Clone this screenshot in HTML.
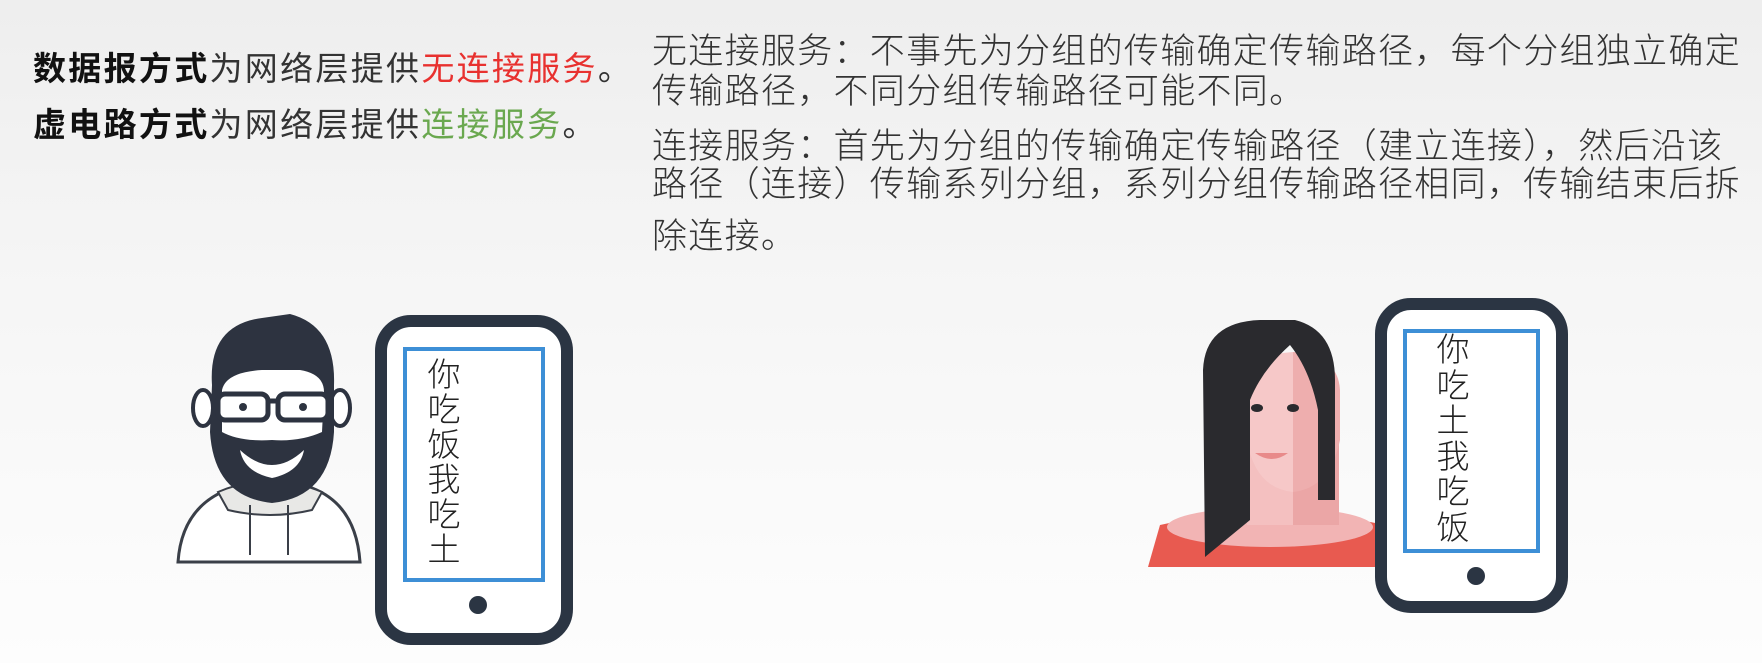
<!DOCTYPE html>
<html><head><meta charset="utf-8">
<style>
html,body{margin:0;padding:0}
body{width:1762px;height:663px;overflow:hidden;position:relative;background:linear-gradient(#eeeeee,#f6f6f6 45%,#fdfdfd);font-family:"Liberation Sans","Noto Sans CJK SC",sans-serif;}
.t{position:absolute;white-space:nowrap;line-height:34px;}
.l{font-size:33px;letter-spacing:2.3px;color:#333;left:33px}
.l b{color:#111}
.r{font-size:35px;letter-spacing:1.3px;color:#333;left:652px;line-height:35px;font-weight:300}
.red{color:#e8312f}.green{color:#6aa84f}
svg{position:absolute;left:0;top:0}
</style></head><body>
<div class="t l" style="top:52px"><b>数据报方式</b>为网络层提供<span class="red">无连接服务</span>。</div>
<div class="t l" style="top:108px"><b>虚电路方式</b>为网络层提供<span class="green">连接服务</span>。</div>
<div class="t r" style="top:34px">无连接服务：不事先为分组的传输确定传输路径，每个分组独立确定</div>
<div class="t r" style="top:74px">传输路径，不同分组传输路径可能不同。</div>
<div class="t r" style="top:129px">连接服务：首先为分组的传输确定传输路径（建立连接），然后沿该</div>
<div class="t r" style="top:167px">路径（连接）传输系列分组，系列分组传输路径相同，传输结束后拆</div>
<div class="t r" style="top:219px">除连接。</div>

<svg width="1762" height="663">
 <g>
  <path d="M178,562 Q182,505 232,488 L312,488 Q356,505 360,562 Z" fill="#fff" stroke="#3a3f48" stroke-width="3"/>
  <path d="M218,492 Q270,470 322,492 L312,510 Q270,520 228,510 Z" fill="#e8e8e6" stroke="#3a3f48" stroke-width="2"/>
  <line x1="250" y1="505" x2="250" y2="555" stroke="#3a3f48" stroke-width="2"/>
  <line x1="288" y1="505" x2="288" y2="555" stroke="#3a3f48" stroke-width="2"/>
  <ellipse cx="203" cy="408" rx="10" ry="18" fill="#fff" stroke="#2d3340" stroke-width="4"/>
  <ellipse cx="340" cy="408" rx="10" ry="18" fill="#fff" stroke="#2d3340" stroke-width="4"/>
  <path d="M212,385 Q208,325 262,318 L290,314 Q336,326 334,385 L334,432 Q330,497 272,503 Q214,497 210,432 Z" fill="#2d3340"/>
  <path d="M222,390 Q226,372 262,370 L300,370 Q324,374 324,392 L322,432 Q300,442 272,440 Q240,442 222,432 Z" fill="#fff"/>
  <path d="M240,450 Q272,480 304,450 Q300,472 272,478 Q244,472 240,450 Z" fill="#fff"/>
  <rect x="218" y="394" width="50" height="26" rx="7" fill="#fff" stroke="#2d3340" stroke-width="5"/>
  <rect x="278" y="394" width="50" height="26" rx="7" fill="#fff" stroke="#2d3340" stroke-width="5"/>
  <line x1="268" y1="401" x2="278" y2="401" stroke="#2d3340" stroke-width="5"/>
  <circle cx="243" cy="407" r="4" fill="#2d3340"/><circle cx="303" cy="407" r="4" fill="#2d3340"/>
 </g>
 <g>
  <rect x="381" y="321" width="186" height="318" rx="30" fill="#fff" stroke="#2b3543" stroke-width="12"/>
  <rect x="405" y="349" width="138" height="231" fill="#fff" stroke="#3d8fd6" stroke-width="4"/>
  <circle cx="478" cy="605" r="9" fill="#2b3543"/>
  <g font-family="'Noto Sans CJK SC',sans-serif" font-size="33" font-weight="300" fill="#222" text-anchor="middle">
   <text x="444" y="386">你</text><text x="444" y="421">吃</text><text x="444" y="456">饭</text><text x="444" y="491">我</text><text x="444" y="526">吃</text><text x="444" y="561">土</text>
  </g>
 </g>
 <g>
  <path d="M1160,525 Q1270,500 1385,525 L1398,567 L1148,567 Z" fill="#e85a50"/>
  <ellipse cx="1270" cy="527" rx="103" ry="20" fill="#f2b4b4"/>
  <rect x="1247" y="440" width="46" height="85" fill="#f4c0c0"/>
  <rect x="1293" y="440" width="46" height="85" fill="#eba6a6"/>
  <path d="M1247,380 Q1250,355 1293,352 L1293,492 Q1255,488 1247,440 Z" fill="#f6c8c8"/>
  <path d="M1293,352 Q1338,355 1340,390 L1340,440 Q1330,488 1293,492 Z" fill="#eeaeae"/>
  <path d="M1203,370 Q1205,322 1260,320 L1295,320 Q1335,330 1335,380 L1335,500 L1318,500 L1318,410 Q1310,370 1290,345 Q1262,370 1250,400 L1250,520 L1205,557 Z" fill="#2a2a2e"/>
  <ellipse cx="1257" cy="408" rx="6" ry="4" fill="#2a2a2e"/><ellipse cx="1293" cy="408" rx="6" ry="4" fill="#2a2a2e"/>
  <path d="M1255,453 Q1272,465 1288,453 Z" fill="#e88a8a"/>
 </g>
 <g>
  <rect x="1381" y="304" width="181" height="303" rx="30" fill="#fff" stroke="#2b3543" stroke-width="12"/>
  <rect x="1405" y="331" width="133" height="220" fill="#fff" stroke="#3d8fd6" stroke-width="4"/>
  <circle cx="1476" cy="576" r="9" fill="#2b3543"/>
  <g font-family="'Noto Sans CJK SC',sans-serif" font-size="33" font-weight="300" fill="#222" text-anchor="middle">
   <text x="1453" y="361">你</text><text x="1453" y="397">吃</text><text x="1453" y="432">土</text><text x="1453" y="468">我</text><text x="1453" y="503">吃</text><text x="1453" y="539">饭</text>
  </g>
 </g>
</svg>
</body></html>
